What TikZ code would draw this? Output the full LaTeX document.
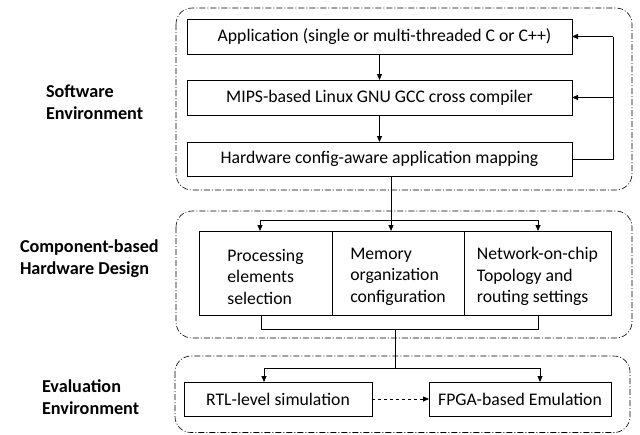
\documentclass[tikz,border=0pt]{standalone}
\usepackage{fontspec}
\setmainfont{Carlito}
\usetikzlibrary{arrows.meta}
\begin{document}
\begin{tikzpicture}[x=1pt,y=1pt,
  every node/.style={inner sep=0pt, outer sep=0pt},
  txt/.style={font=\fontsize{17.7}{21.5}\selectfont},
  box/.style={draw, line width=0.8pt, txt, anchor=north west},
  cbox/.style={box, minimum height=84pt},
  ctext/.style={txt, align=left, yshift=-3.5pt},
  grp/.style={draw, line width=0.6pt, rounded corners=16pt,
    dash pattern=on 6pt off 2pt on 1pt off 2pt},
  lbl/.style={font=\fontsize{18.2}{22}\selectfont\bfseries, align=left, anchor=west},
  ln/.style={line width=0.8pt},
  arr/.style={ln, -{Triangle[length=6pt,width=5pt]}}]
\useasboundingbox (0,0) rectangle (640,-434);

% environment groups
\draw[grp] (176,-8) rectangle (632,-190);
\draw[grp] (176,-211) rectangle (632,-338);
\draw[grp] (175,-356) rectangle (630,-432.5);

% group labels
\node[lbl] (lsw) at (46,-102.5) {Software\\Environment};
\node[lbl] (lhw) at (20,-259) {Component-based\\Hardware Design};
\node[lbl] (lev) at (42,-397) {Evaluation\\Environment};

% software flow
\node[box, minimum width=385pt, minimum height=35pt] (app) at (187,-19) {\hspace{10pt}Application (single or multi-threaded C or C++)};
\node[box, minimum width=385pt, minimum height=35pt] (mips) at (187,-80) {MIPS-based Linux GNU GCC cross compiler};
\node[box, minimum width=385pt, minimum height=34pt] (hw) at (187,-142) {Hardware config-aware application mapping};

\draw[arr] (app) -- (mips);
\draw[arr] (mips) -- (hw);

\coordinate (fbb) at (613,-159);
\coordinate (fbt) at (613,-36.5);
\draw[ln] (hw.east |- fbb) -- (fbb) -- (fbt);
\draw[arr] (fbt) -- (app.east);
\draw[arr] (fbb |- mips.east) -- (mips.east);

% hardware components
\node[cbox, minimum width=133pt] (pe) at (199,-231) {};
\node[cbox, minimum width=132pt] (mem) at (332,-231) {};
\node[cbox, minimum width=147pt] (noc) at (464,-231) {};
\node[ctext] (pet) at (pe.center) {Processing\\elements\\selection};
\node[ctext] (memt) at (mem.center) {Memory\\organization\\configuration};
\node[ctext] (noct) at (noc.center) {Network-on-chip\\Topology and\\routing settings};

\coordinate (hwo) at (391,-176);
\coordinate (bj) at (391,-220);
\coordinate (bl) at (260,-220);
\coordinate (br) at (538,-220);
\draw[ln] (hwo) -- (bj);
\draw[ln] (bl) -- (br);
\draw[arr] (bl) -- (bl |- pe.north);
\draw[arr] (bj) -- (bj |- mem.north);
\draw[arr] (br) -- (br |- noc.north);

% merge of the component outputs
\coordinate (ml) at (261,-329);
\coordinate (mr) at (538,-329);
\coordinate (mo) at (395,-329);
\draw[ln] (ml |- pe.south) -- (ml) -- (mr) -- (mr |- noc.south);

% evaluation
\node[box, minimum width=188pt, minimum height=34pt] (rtl) at (184,-382) {RTL-level simulation\hspace{14pt}};
\node[box, minimum width=182pt, minimum height=34pt] (fpga) at (429,-382) {FPGA-based Emulation};

\coordinate (ej) at (395,-368);
\coordinate (el) at (264,-368);
\coordinate (er) at (540,-368);
\draw[ln] (mo) -- (ej);
\draw[ln] (el) -- (er);
\draw[arr] (el) -- (el |- rtl.north);
\draw[arr] (er) -- (er |- fpga.north);
\draw[arr, dashed] (rtl.east) -- (fpga.west);
\end{tikzpicture}
\end{document}
